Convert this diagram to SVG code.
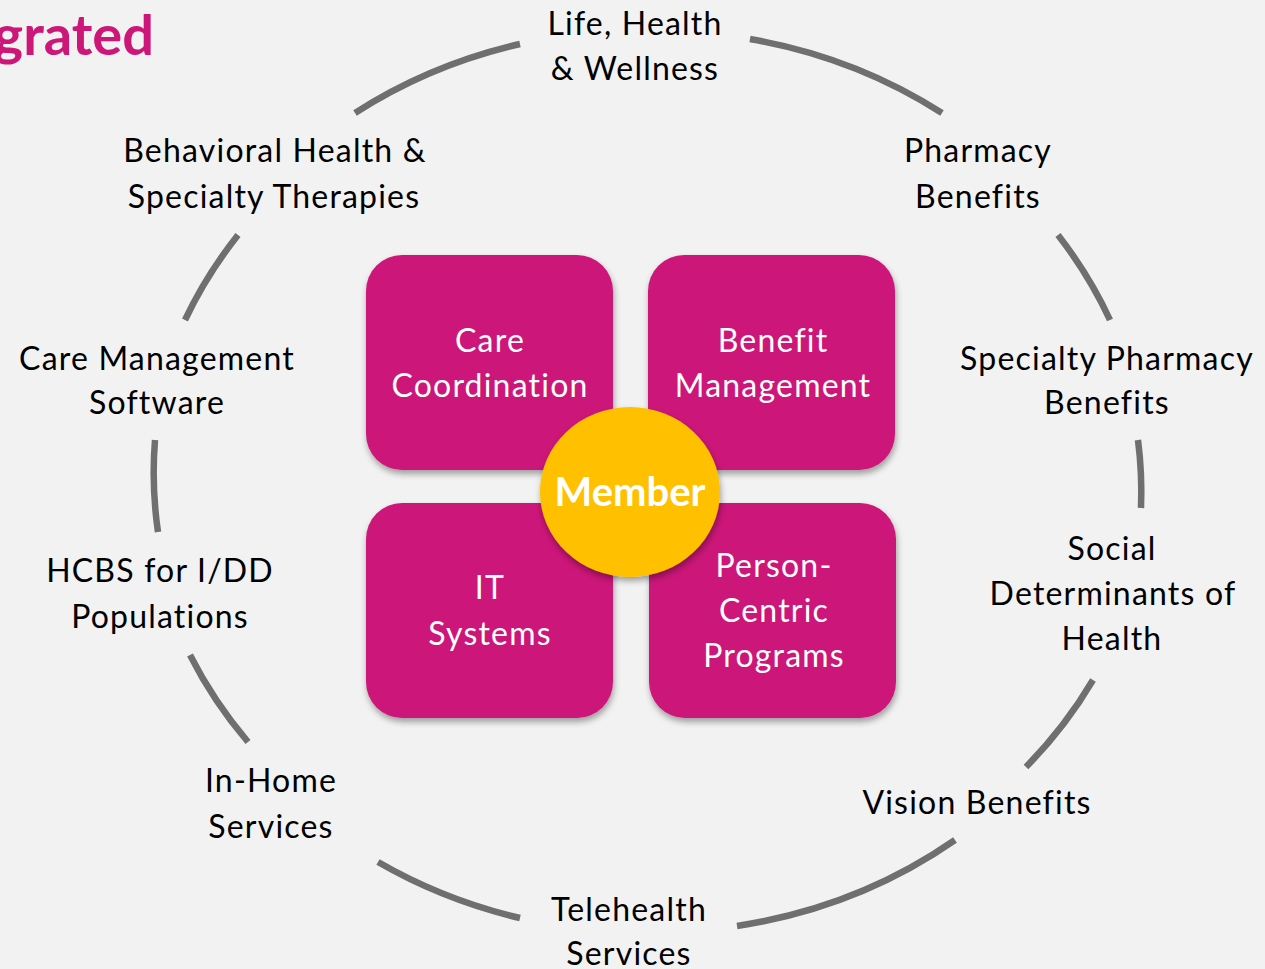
<svg xmlns="http://www.w3.org/2000/svg" width="1265" height="969" viewBox="0 0 1265 969">
<defs>
<filter id="sh" x="-20%" y="-20%" width="140%" height="140%">
<feDropShadow dx="1" dy="4" stdDeviation="3" flood-color="#000" flood-opacity="0.35"/>
</filter>
</defs>
<style>
.lbl{font-family:Lato,"Liberation Sans",sans-serif;font-size:32px;letter-spacing:1.2px;fill:#000;text-anchor:middle}
.box{fill:#cc1779;filter:url(#sh)}
.bt{font-family:Lato,"Liberation Sans",sans-serif;font-size:32px;letter-spacing:1.2px;fill:#fff;text-anchor:middle}
.arc{fill:none;stroke:#6f6f6f;stroke-width:6.5}
</style>
<rect width="1265" height="969" fill="#f2f2f2"/>
<text x="154" y="55" text-anchor="end" font-family="Lato,'Liberation Sans',sans-serif" font-weight="bold" font-size="56" fill="#cc1779">grated</text>
<g id="connectors">
<path class="arc" d="M355,113 A495,450 0 0,1 520,44"/>
<path class="arc" d="M750,39 A495,450 0 0,1 942,113"/>
<path class="arc" d="M1058,235 A495,450 0 0,1 1110,320"/>
<path class="arc" d="M1138,440 A495,450 0 0,1 1141,508"/>
<path class="arc" d="M1093,680 A495,450 0 0,1 1026,767"/>
<path class="arc" d="M955,840 A495,450 0 0,1 737,926"/>
<path class="arc" d="M520,918 A495,450 0 0,1 378,862"/>
<path class="arc" d="M248,742 A495,450 0 0,1 190,655"/>
<path class="arc" d="M158,532 A495,450 0 0,1 155,440"/>
<path class="arc" d="M185,320 A495,450 0 0,1 238,235"/>
</g>
<g id="life"><text class="lbl" x="635" y="35">Life, Health</text><text class="lbl" x="635" y="80">&amp; Wellness</text></g>
<g id="behavioral"><text class="lbl" x="275" y="162">Behavioral Health &amp;</text><text class="lbl" x="274" y="208">Specialty Therapies</text></g>
<g id="pharmacy"><text class="lbl" x="978" y="162">Pharmacy</text><text class="lbl" x="978" y="208">Benefits</text></g>
<g id="caremgmt"><text class="lbl" x="157" y="370">Care Management</text><text class="lbl" x="157" y="414">Software</text></g>
<g id="specialty"><text class="lbl" x="1107" y="370">Specialty Pharmacy</text><text class="lbl" x="1107" y="414">Benefits</text></g>
<g id="hcbs"><text class="lbl" x="160" y="582">HCBS for I/DD</text><text class="lbl" x="160" y="628">Populations</text></g>
<g id="social"><text class="lbl" x="1112" y="560">Social</text><text class="lbl" x="1113" y="605">Determinants of</text><text class="lbl" x="1112" y="650">Health</text></g>
<g id="inhome"><text class="lbl" x="271" y="792">In-Home</text><text class="lbl" x="271" y="838">Services</text></g>
<g id="vision"><text class="lbl" x="977" y="814">Vision Benefits</text></g>
<g id="telehealth"><text class="lbl" x="629" y="921">Telehealth</text><text class="lbl" x="629" y="965">Services</text></g>
<g id="care-coordination"><rect class="box" x="366" y="255" width="247" height="215" rx="36"/><text class="bt" x="490" y="352">Care</text><text class="bt" x="490" y="397">Coordination</text></g>
<g id="benefit-management"><rect class="box" x="648" y="255" width="247" height="215" rx="36"/><text class="bt" x="773" y="352">Benefit</text><text class="bt" x="773" y="397">Management</text></g>
<g id="it-systems"><rect class="box" x="366" y="503" width="247" height="215" rx="36"/><text class="bt" x="490" y="599">IT</text><text class="bt" x="490" y="645">Systems</text></g>
<g id="person-centric"><rect class="box" x="649" y="503" width="247" height="215" rx="36"/><text class="bt" x="774" y="577">Person-</text><text class="bt" x="774" y="622">Centric</text><text class="bt" x="774" y="667">Programs</text></g>
<g id="member"><ellipse cx="630" cy="492" rx="90" ry="85" fill="#ffc000" filter="url(#sh)"/><text x="630" y="506" text-anchor="middle" font-family="Lato,'Liberation Sans',sans-serif" font-weight="bold" font-size="40" fill="#fff">Member</text></g>
</svg>
